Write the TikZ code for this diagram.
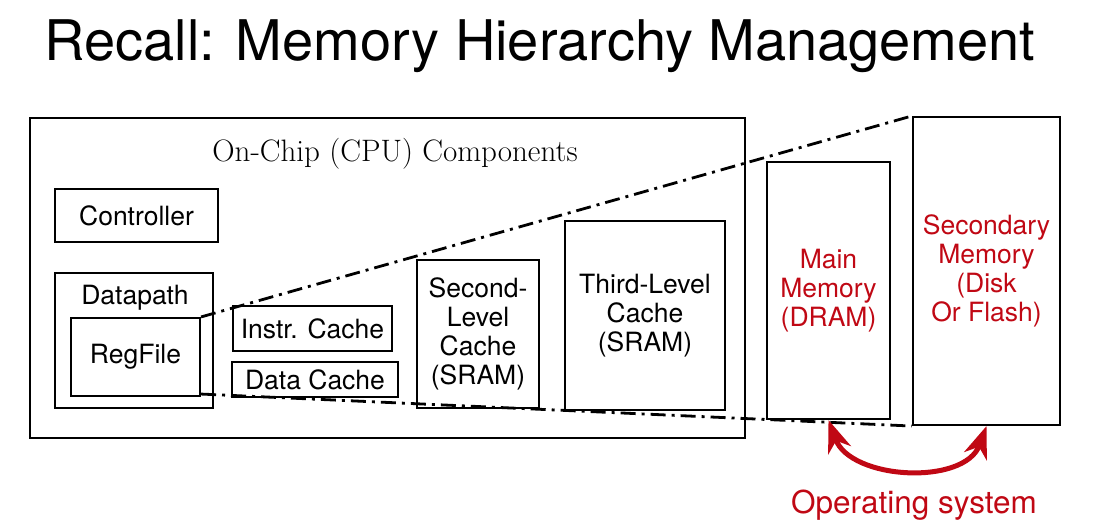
\documentclass[tikz,border=0pt]{standalone}
\usepackage{fontspec}
\newfontfamily\heros{TeX Gyre Heros}
\definecolor{osred}{RGB}{192,8,20}
\usetikzlibrary{arrows.meta}
\begin{document}
\begin{tikzpicture}[x=1pt,y=-1pt,
    blk/.style={draw,line width=2.1pt,align=center,inner sep=0pt,font=\heros\fontsize{26.5}{29}\selectfont},
    memblk/.style={blk,text=osred},
    dashdot/.style={line width=2.8pt,dash pattern=on 15pt off 6pt on 3pt off 6pt}]
  \useasboundingbox (0,0) rectangle (1105,527);
  \node[anchor=base,font=\heros\fontsize{56}{60}\selectfont] (title) at (540,60) {Recall: Memory Hierarchy Management};

  % on-chip part
  \node[draw,line width=2.1pt,minimum width=715,minimum height=320] (chip) at (387.5,278) {};
  \node[anchor=base,font=\fontsize{31}{33}\selectfont] (chiplabel) at (395,161) {On-Chip (CPU) Components};
  \node[blk,minimum width=163,minimum height=53] (ctrl) at (136.5,215.5) {Controller};
  \node[blk,minimum width=158,minimum height=135] (dpath) at (134,340.5) {};
  \node[anchor=base,font=\heros\fontsize{26.5}{29}\selectfont] (dpathlabel) at (135,304) {Datapath};
  \node[blk,minimum width=129,minimum height=78] (regfile) at (135.5,357) {RegFile};
  \node[blk,minimum width=159,minimum height=45] (icache) at (312.5,328.5) {Instr. Cache};
  \node[blk,minimum width=166,minimum height=35] (dcache) at (315,379.5) {Data Cache};
  \node[blk,minimum width=122,minimum height=148] (ltwo) at (478,334) {Second-\\Level\\Cache\\(SRAM)};
  \node[blk,minimum width=160,minimum height=189] (lthree) at (645,315.5) {Third-Level\\Cache\\(SRAM)};

  % off-chip memories
  \node[memblk,minimum width=123,minimum height=257] (mainmem) at (828.5,290.5) {Main\\Memory\\(DRAM)};
  \node[memblk,minimum width=147,minimum height=308] (secmem) at (986.5,271) {Secondary\\Memory\\(Disk\\Or Flash)};

  \draw[dashdot] (regfile.north east) -- (secmem.north west);
  \draw[dashdot] ([yshift=3]regfile.south east) -- (secmem.south west);

  \draw[osred,line width=5pt,{Stealth[length=32pt,width=24pt,inset=10pt]}-{Stealth[length=32pt,width=24pt,inset=10pt]}]
    (mainmem.south) .. controls +(22,60) and +(-22,60) .. (secmem.south);
  \node[anchor=base,text=osred,font=\heros\fontsize{31.5}{34}\selectfont] (oslabel) at (914,513) {Operating system};
\end{tikzpicture}
\end{document}
